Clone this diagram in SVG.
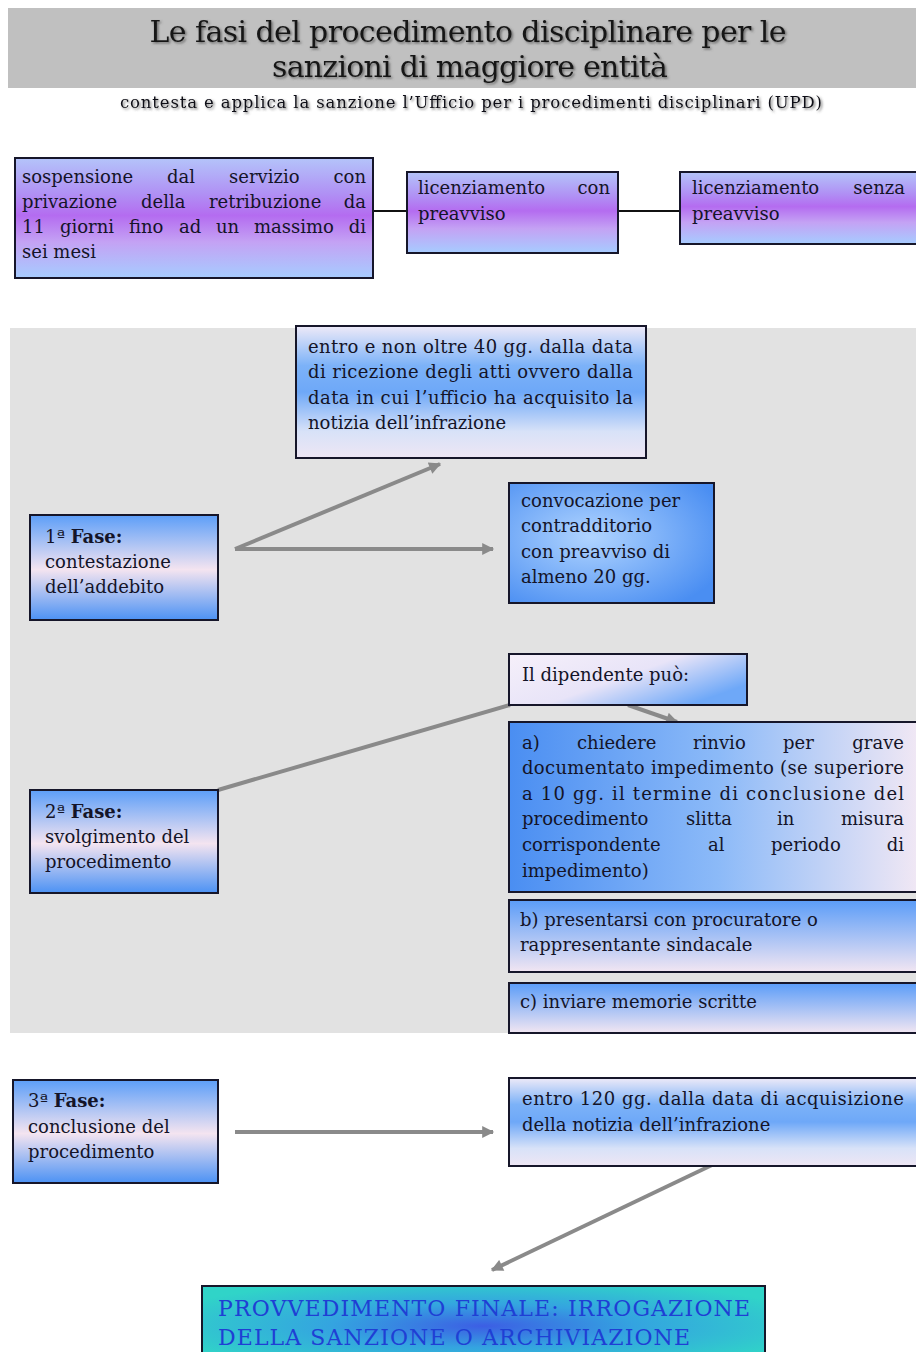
<svg xmlns="http://www.w3.org/2000/svg" width="916" height="1352" viewBox="0 0 916 1352">
<defs>
<style>
.t{font-family:"DejaVu Serif","Liberation Serif",serif;font-size:18px;fill:#141428}
.b{font-weight:bold}
.bx{stroke:#16162a;stroke-width:2}
.cn{stroke:#8a8a8a;stroke-width:4;fill:none}
.bl{stroke:#111;stroke-width:2}
.ttl{font-family:"DejaVu Serif","Liberation Serif",serif;font-size:30px;fill:#151515}
</style>
<filter id="sh" x="-5%" y="-20%" width="110%" height="150%">
<feDropShadow dx="1.5" dy="1.5" stdDeviation="0.8" flood-color="#555" flood-opacity="0.8"/>
</filter>
<linearGradient id="gPurple" x1="0" y1="0" x2="0" y2="1">
<stop offset="0" stop-color="#b4c4fa"/>
<stop offset="0.3" stop-color="#b090f4"/>
<stop offset="0.48" stop-color="#b46cf0"/>
<stop offset="0.7" stop-color="#c4a2f4"/>
<stop offset="1" stop-color="#a6ccff"/>
</linearGradient>
<linearGradient id="gBand" x1="0" y1="0" x2="0" y2="1">
<stop offset="0" stop-color="#eeeaf8"/>
<stop offset="0.3" stop-color="#7cb2f8"/>
<stop offset="0.5" stop-color="#6ea8f8"/>
<stop offset="0.8" stop-color="#d8e2f8"/>
<stop offset="1" stop-color="#eee6f4"/>
</linearGradient>
<linearGradient id="gPhase" x1="0" y1="0" x2="0" y2="1">
<stop offset="0" stop-color="#5c9ef8"/>
<stop offset="0.52" stop-color="#f4e4f0"/>
<stop offset="1" stop-color="#4c92f4"/>
</linearGradient>
<radialGradient id="gConv" cx="0.4" cy="0.45" r="0.7">
<stop offset="0" stop-color="#b0d4ff"/>
<stop offset="1" stop-color="#4a8ef2"/>
</radialGradient>
<linearGradient id="gDip" x1="0" y1="0" x2="1" y2="0.6">
<stop offset="0" stop-color="#f6f0fa"/>
<stop offset="0.55" stop-color="#e8e4f8"/>
<stop offset="1" stop-color="#6ea8f8"/>
</linearGradient>
<linearGradient id="gA" x1="0" y1="0" x2="1" y2="0">
<stop offset="0" stop-color="#4a8ef2"/>
<stop offset="0.5" stop-color="#8cbaf8"/>
<stop offset="1" stop-color="#f6eaf4"/>
</linearGradient>
<linearGradient id="gBC" x1="0" y1="0" x2="0" y2="1">
<stop offset="0" stop-color="#5a9cf8"/>
<stop offset="1" stop-color="#f2e6f2"/>
</linearGradient>
<radialGradient id="gFin" cx="0.5" cy="0.5" r="0.6">
<stop offset="0" stop-color="#3c5ee4"/>
<stop offset="0.45" stop-color="#34a4e0"/>
<stop offset="1" stop-color="#30d4c8"/>
</radialGradient>
<marker id="ah" viewBox="0 0 10 10" refX="9" refY="5" markerWidth="14" markerHeight="12" markerUnits="userSpaceOnUse" orient="auto">
<path d="M0,0 L10,5 L0,10 z" fill="#8a8a8a"/>
</marker>
</defs>

<rect x="0" y="0" width="916" height="1352" fill="#ffffff"/>

<g id="title">
<rect x="8" y="8" width="908" height="80" fill="#c0c0c0"/>
<text class="ttl" x="468" y="42" text-anchor="middle" textLength="637" filter="url(#sh)">Le fasi del procedimento disciplinare per le</text>
<text class="ttl" x="470" y="77" text-anchor="middle" textLength="396" filter="url(#sh)">sanzioni di maggiore entità</text>
<text class="t" x="471" y="108" text-anchor="middle" textLength="702" style="font-size:16.5px;fill:#0a0a14" filter="url(#sh)">contesta e applica la sanzione l’Ufficio per i procedimenti disciplinari (UPD)</text>
</g>

<rect id="panel" x="10" y="328" width="906" height="705" fill="#e2e2e2"/>

<g id="connectors">
<line class="bl" x1="373" y1="211" x2="407" y2="211"/>
<line class="bl" x1="618" y1="211" x2="680" y2="211"/>
<line class="cn" x1="235" y1="549" x2="440" y2="464" marker-end="url(#ah)"/>
<line class="cn" x1="235" y1="549" x2="493" y2="549" marker-end="url(#ah)"/>
<line class="cn" x1="218" y1="790" x2="510" y2="705"/>
<line class="cn" x1="628" y1="705" x2="677" y2="722" marker-end="url(#ah)"/>
<line class="cn" x1="235" y1="1132" x2="493" y2="1132" marker-end="url(#ah)"/>
<line class="cn" x1="712" y1="1165" x2="492" y2="1270" marker-end="url(#ah)"/>
</g>

<g id="n-sospensione">
<rect class="bx" x="15" y="158" width="358" height="120" fill="url(#gPurple)"/>
<text class="t"><tspan x="22" y="183">sospensione</tspan><tspan x="167" y="183">dal</tspan><tspan x="229" y="183">servizio</tspan><tspan x="366" y="183" text-anchor="end">con</tspan></text>
<text class="t"><tspan x="22" y="208">privazione</tspan><tspan x="141" y="208">della</tspan><tspan x="209" y="208">retribuzione</tspan><tspan x="366" y="208" text-anchor="end">da</tspan></text>
<text class="t"><tspan x="22" y="233">11</tspan><tspan x="60" y="233">giorni</tspan><tspan x="129" y="233">fino</tspan><tspan x="179" y="233">ad</tspan><tspan x="216" y="233">un</tspan><tspan x="254" y="233">massimo</tspan><tspan x="366" y="233" text-anchor="end">di</tspan></text>
<text class="t" x="22" y="258">sei mesi</text>
</g>

<g id="n-lic-con">
<rect class="bx" x="407" y="172" width="211" height="81" fill="url(#gPurple)"/>
<text class="t"><tspan x="418" y="194">licenziamento</tspan><tspan x="610" y="194" text-anchor="end">con</tspan></text>
<text class="t" x="418" y="220">preavviso</text>
</g>

<g id="n-lic-senza">
<rect class="bx" x="680" y="172" width="250" height="72" fill="url(#gPurple)"/>
<text class="t"><tspan x="692" y="194">licenziamento</tspan><tspan x="905" y="194" text-anchor="end">senza</tspan></text>
<text class="t" x="692" y="220">preavviso</text>
</g>

<g id="n-entro40">
<rect class="bx" x="296" y="326" width="350" height="132" fill="url(#gBand)"/>
<text class="t" x="308" y="353" textLength="325">entro e non oltre 40 gg. dalla data</text>
<text class="t" x="308" y="378" textLength="325">di ricezione degli atti ovvero dalla</text>
<text class="t" x="308" y="404" textLength="325">data in cui l’ufficio ha acquisito la</text>
<text class="t" x="308" y="429">notizia dell’infrazione</text>
</g>

<g id="n-fase1">
<rect class="bx" x="30" y="515" width="188" height="105" fill="url(#gPhase)"/>
<text class="t" x="45" y="543">1ª <tspan class="b">Fase:</tspan></text>
<text class="t" x="45" y="568">contestazione</text>
<text class="t" x="45" y="593">dell’addebito</text>
</g>

<g id="n-convocazione">
<rect class="bx" x="509" y="483" width="205" height="120" fill="url(#gConv)"/>
<text class="t" x="521" y="507">convocazione per</text>
<text class="t" x="521" y="532">contradditorio</text>
<text class="t" x="521" y="558">con preavviso di</text>
<text class="t" x="521" y="583">almeno 20 gg.</text>
</g>

<g id="n-dipendente">
<rect class="bx" x="509" y="654" width="238" height="51" fill="url(#gDip)"/>
<text class="t" x="522" y="681">Il dipendente  può:</text>
</g>

<g id="n-fase2">
<rect class="bx" x="30" y="790" width="188" height="103" fill="url(#gPhase)"/>
<text class="t" x="45" y="818">2ª <tspan class="b">Fase:</tspan></text>
<text class="t" x="45" y="843">svolgimento del</text>
<text class="t" x="45" y="868">procedimento</text>
</g>

<g id="n-opz-a">
<rect class="bx" x="509" y="722" width="420" height="170" fill="url(#gA)"/>
<text class="t"><tspan x="522" y="749">a)</tspan><tspan x="577" y="749">chiedere</tspan><tspan x="693" y="749">rinvio</tspan><tspan x="783" y="749">per</tspan><tspan x="904" y="749" text-anchor="end">grave</tspan></text>
<text class="t" x="522" y="774" textLength="382">documentato impedimento (se superiore</text>
<text class="t" x="522" y="800" textLength="382">a 10 gg. il termine di conclusione del</text>
<text class="t"><tspan x="522" y="825">procedimento</tspan><tspan x="686" y="825">slitta</tspan><tspan x="777" y="825">in</tspan><tspan x="904" y="825" text-anchor="end">misura</tspan></text>
<text class="t"><tspan x="522" y="851">corrispondente</tspan><tspan x="708" y="851">al</tspan><tspan x="771" y="851">periodo</tspan><tspan x="904" y="851" text-anchor="end">di</tspan></text>
<text class="t" x="522" y="877">impedimento)</text>
</g>

<g id="n-opz-b">
<rect class="bx" x="509" y="900" width="420" height="72" fill="url(#gBC)"/>
<text class="t" x="520" y="926">b) presentarsi con procuratore o</text>
<text class="t" x="520" y="951">rappresentante sindacale</text>
</g>

<g id="n-opz-c">
<rect class="bx" x="509" y="983" width="420" height="50" fill="url(#gBC)"/>
<text class="t" x="520" y="1008">c) inviare memorie scritte</text>
</g>

<g id="n-fase3">
<rect class="bx" x="13" y="1080" width="205" height="103" fill="url(#gPhase)"/>
<text class="t" x="28" y="1107">3ª <tspan class="b">Fase:</tspan></text>
<text class="t" x="28" y="1133">conclusione del</text>
<text class="t" x="28" y="1158">procedimento</text>
</g>

<g id="n-entro120">
<rect class="bx" x="509" y="1078" width="420" height="88" fill="url(#gBand)"/>
<text class="t" x="522" y="1105" textLength="382">entro 120 gg. dalla data di acquisizione</text>
<text class="t" x="522" y="1131">della notizia dell’infrazione</text>
</g>

<g id="n-finale">
<rect class="bx" x="202" y="1286" width="563" height="80" fill="url(#gFin)"/>
<text class="t" x="218" y="1316" textLength="532" style="font-size:22px;fill:#1f3fd4">PROVVEDIMENTO FINALE: IRROGAZIONE</text>
<text class="t" x="218" y="1345" textLength="472" style="font-size:22px;fill:#1f3fd4">DELLA SANZIONE O ARCHIVIAZIONE</text>
</g>
</svg>
